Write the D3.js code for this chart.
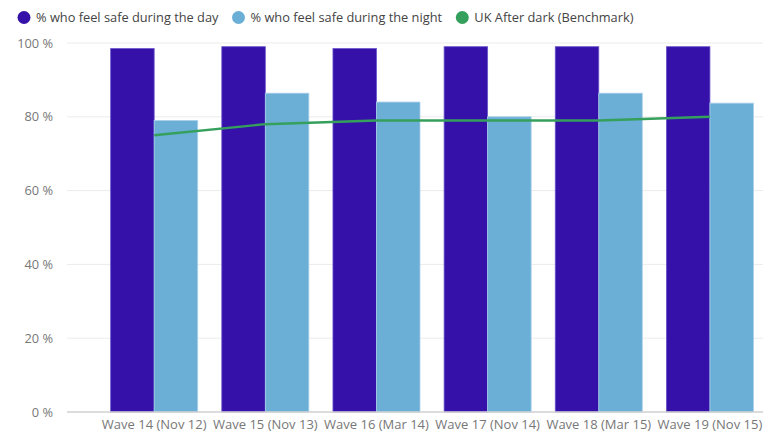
<!DOCTYPE html>
<html><head><meta charset="utf-8">
<script src="https://cdn.jsdelivr.net/npm/d3@7"></script>
<style>body{margin:0;background:#fff;} text{font-family:"Open Sans",sans-serif;}</style>
</head><body>
<svg id="c" width="763" height="440"></svg>
<script>
const categories = ["Wave 14 (Nov 12)","Wave 15 (Nov 13)","Wave 16 (Mar 14)","Wave 17 (Nov 14)","Wave 18 (Mar 15)","Wave 19 (Nov 15)"];
const daySafe = [98.5, 99, 98.5, 99, 99, 99];
const nightSafe = [79, 86.4, 84, 80, 86.4, 83.7];
const benchmark = [75, 78, 79, 79, 79, 80];
const yTicks = [0, 20, 40, 60, 80, 100];
const seriesNames = ["% who feel safe during the day","% who feel safe during the night","UK After dark (Benchmark)"];
const colors = ["#3511AA","#6BAED6","#35A05C"];

const svg = d3.select("#c");
const y = d3.scaleLinear().domain([0,100]).range([412,43]);
const x = d3.scaleBand().domain(categories).range([98.6,765.5]).paddingInner(0.217).paddingOuter(0.1085);
const xs = d3.scaleBand().domain([0,1]).range([0,x.bandwidth()]);

// grid
svg.append("g").selectAll("line").data(yTicks.filter(d=>d>0)).join("line")
  .attr("x1",67).attr("x2",763).attr("y1",d=>y(d)).attr("y2",d=>y(d))
  .attr("stroke","#ebebeb").attr("stroke-width",1);

// y axis labels
const yAxis = d3.axisLeft(y).tickValues(yTicks).tickFormat(d=>d+" %").tickSize(0).tickPadding(0);
const ya = svg.append("g").attr("transform","translate(53,0)").call(yAxis);
ya.select(".domain").remove();
ya.selectAll("text").attr("fill","#777").style("font-size","12.8px").attr("font-family","'Open Sans',sans-serif");

// bars
const series = [daySafe, nightSafe];
series.forEach((vals,si)=>{
  svg.append("g").selectAll("rect").data(vals).join("rect")
    .attr("x",(d,i)=>x(categories[i])+xs(si))
    .attr("width",xs.bandwidth())
    .attr("y",d=>y(d)).attr("height",d=>y(0)-y(d))
    .attr("fill",colors[si])
    .attr("stroke",si===0?"#6a55cc":"#a9d0ea").attr("stroke-width",0.8);
});

// baseline
svg.append("line").attr("x1",67).attr("x2",763).attr("y1",y(0)).attr("y2",y(0))
  .attr("stroke","#d0d0d0").attr("stroke-width",1.5);

// benchmark line
const line = d3.line().x((d,i)=>x(categories[i])+x.bandwidth()/2).y(d=>y(d));
svg.append("path").datum(benchmark).attr("d",line).attr("fill","none")
  .attr("stroke",colors[2]).attr("stroke-width",2.4);

// x axis labels
const xAxis = d3.axisBottom(x).tickSize(0).tickPadding(0);
const xa = svg.append("g").attr("transform","translate(0,420)").call(xAxis);
xa.select(".domain").remove();
xa.selectAll("text").attr("fill","#777").style("font-size","13px").attr("font-family","'Open Sans',sans-serif");

// legend
const legX = [24, 238.5, 462.3];
const leg = svg.append("g");
seriesNames.forEach((n,i)=>{
  leg.append("circle").attr("cx",legX[i]).attr("cy",17.5).attr("r",6.5).attr("fill",colors[i]);
  leg.append("text").attr("x",legX[i]+12).attr("y",22).text(n)
    .attr("fill","#444").style("font-size","12.8px");
});
</script>
</body></html>
